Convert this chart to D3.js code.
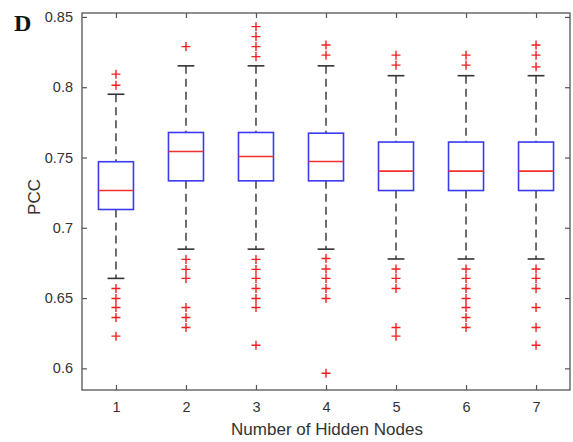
<!DOCTYPE html>
<html><head><meta charset="utf-8">
<script src="https://cdn.jsdelivr.net/npm/d3@7"></script>
<style>body{margin:0;background:#fff}</style>
</head><body><svg id="c" width="573" height="442"></svg>
<script>
const categories = [1,2,3,4,5,6,7];
const q1      = [0.713, 0.7334, 0.7334, 0.7334, 0.7265, 0.7265, 0.7265];
const medians = [0.7265, 0.7543, 0.7507, 0.7472, 0.7403, 0.7403, 0.7403];
const q3      = [0.747, 0.7678, 0.7678, 0.7673, 0.761, 0.761, 0.761];
const whiskerLow  = [0.664, 0.6848, 0.6848, 0.6848, 0.6778, 0.6778, 0.6778];
const whiskerHigh = [0.795, 0.8152, 0.8152, 0.8152, 0.8082, 0.8082, 0.8082];
const outliers = [
  [0.8093, 0.8014, 0.6568, 0.6497, 0.6433, 0.6362, 0.6229],
  [0.8289, 0.6775, 0.6704, 0.664, 0.6433, 0.6362, 0.6291],
  [0.8431, 0.836, 0.8289, 0.8218, 0.6775, 0.6704, 0.664, 0.6568, 0.6497, 0.6433, 0.6164],
  [0.83, 0.8228, 0.6782, 0.6707, 0.664, 0.6568, 0.6497, 0.5965],
  [0.8228, 0.8157, 0.6707, 0.664, 0.6568, 0.6291, 0.6229],
  [0.8228, 0.8157, 0.6707, 0.664, 0.6568, 0.6497, 0.6433, 0.6362, 0.6291],
  [0.83, 0.8228, 0.8145, 0.6707, 0.664, 0.6568, 0.6433, 0.6291, 0.6164]
];
const yTicks = [0.6, 0.65, 0.7, 0.75, 0.8, 0.85];
const yTickLabels = ["0.6", "0.65", "0.7", "0.75", "0.8", "0.85"];

const svg = d3.select("#c");
const L = 82, R = 570, T = 13, B = 390;
const x = d3.scaleLinear().domain([0.515, 7.485]).range([L, R]);
const y = d3.scaleLinear().domain([0.5846, 0.8528]).range([B, T]);
const font = "'Liberation Sans', Arial, sans-serif";
const axisCol = "#555";
const textCol = "#333";

svg.append("rect").attr("x", L).attr("y", T).attr("width", R - L).attr("height", B - T)
  .attr("fill", "none").attr("stroke", axisCol).attr("stroke-width", 1.3);

const yAxis = d3.axisLeft(y).tickValues(yTicks).tickSizeInner(-5).tickSizeOuter(0)
  .tickPadding(9).tickFormat((d, i) => yTickLabels[i]);
const ga = svg.append("g").attr("transform", `translate(${L},0)`).call(yAxis);
ga.select(".domain").remove();
ga.selectAll("line").attr("stroke", axisCol).attr("stroke-width", 1.2);
ga.selectAll("text").attr("font-family", font).attr("font-size", 14.5).attr("fill", textCol);
const gr = svg.append("g").attr("transform", `translate(${R},0)`)
  .call(d3.axisRight(y).tickValues(yTicks).tickSizeInner(-5).tickSizeOuter(0).tickFormat(""));
gr.select(".domain").remove();
gr.selectAll("line").attr("stroke", axisCol).attr("stroke-width", 1.2);

const xAxis = d3.axisBottom(x).tickValues(categories).tickSizeInner(-5).tickSizeOuter(0).tickPadding(12)
  .tickFormat(d3.format("d"));
const gx = svg.append("g").attr("transform", `translate(0,${B})`).call(xAxis);
gx.select(".domain").remove();
gx.selectAll("line").attr("stroke", axisCol).attr("stroke-width", 1.2);
gx.selectAll("text").attr("font-family", font).attr("font-size", 14.5).attr("fill", textCol);
const gt = svg.append("g").attr("transform", `translate(0,${T})`)
  .call(d3.axisTop(x).tickValues(categories).tickSizeInner(-5).tickSizeOuter(0).tickFormat(""));
gt.select(".domain").remove();
gt.selectAll("line").attr("stroke", axisCol).attr("stroke-width", 1.2);

svg.append("text").attr("x", 327).attr("y", 435).attr("text-anchor", "middle")
  .attr("font-family", font).attr("font-size", 17).attr("fill", textCol).text("Number of Hidden Nodes");
svg.append("text").attr("transform", `translate(40,197) rotate(-90)`).attr("text-anchor", "middle")
  .attr("font-family", font).attr("font-size", 17).attr("fill", textCol).text("PCC");
svg.append("text").attr("x", 14).attr("y", 31).attr("font-family", "'Liberation Serif', 'Times New Roman', serif")
  .attr("font-weight", "bold").attr("font-size", 24).attr("fill", "#111").text("D");

const bw = x(1.25) - x(0.75);
const cw = x(1.12) - x(0.88);
const g = svg.append("g");
categories.forEach((c, i) => {
  const cx = x(c);
  [[whiskerHigh[i], q3[i]], [q1[i], whiskerLow[i]]].forEach(([a, b]) => {
    g.append("line").attr("x1", cx).attr("x2", cx).attr("y1", y(a)).attr("y2", y(b))
      .attr("stroke", "#555").attr("stroke-width", 1.7).attr("stroke-dasharray", "8,5");
  });
  [whiskerHigh[i], whiskerLow[i]].forEach(v => {
    g.append("line").attr("x1", cx - cw / 2).attr("x2", cx + cw / 2).attr("y1", y(v)).attr("y2", y(v))
      .attr("stroke", "#333").attr("stroke-width", 1.6);
  });
  g.append("rect").attr("x", cx - bw / 2).attr("y", y(q3[i])).attr("width", bw)
    .attr("height", y(q1[i]) - y(q3[i])).attr("fill", "none").attr("stroke", "#3a3af0").attr("stroke-width", 1.6);
  g.append("line").attr("x1", cx - bw / 2).attr("x2", cx + bw / 2).attr("y1", y(medians[i])).attr("y2", y(medians[i]))
    .attr("stroke", "#f03030").attr("stroke-width", 1.6);
  outliers[i].forEach(v => {
    const py = y(v);
    g.append("path").attr("d", `M${cx - 4.5},${py}H${cx + 4.5}M${cx},${py - 4.5}V${py + 4.5}`)
      .attr("stroke", "#f02020").attr("stroke-width", 1.4).attr("fill", "none");
  });
});
</script></body></html>
